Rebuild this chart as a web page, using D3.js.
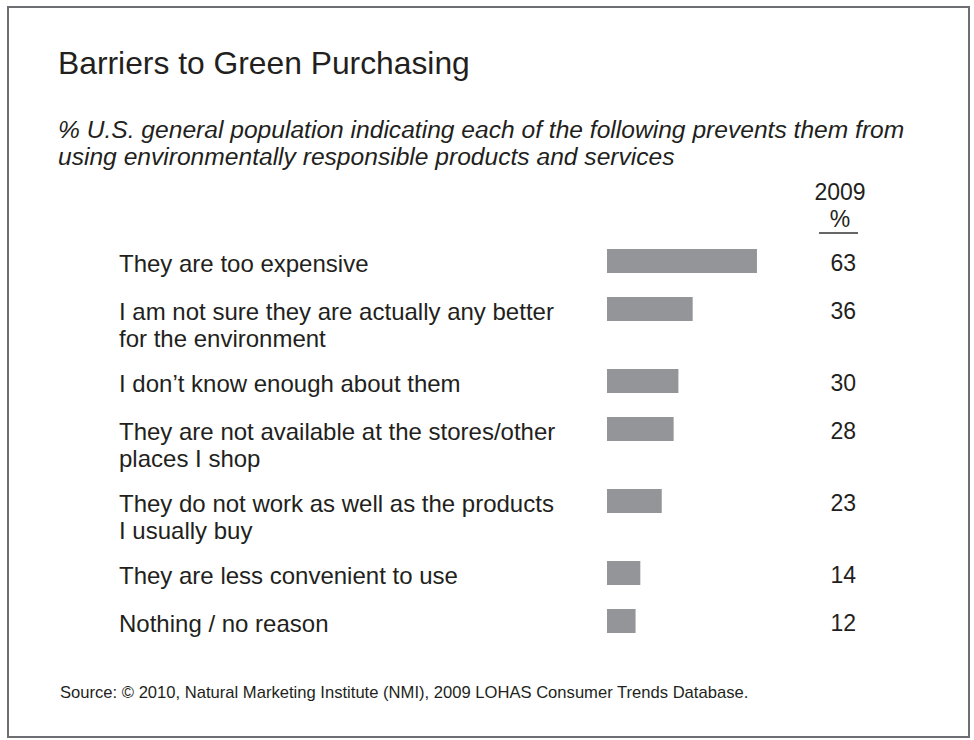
<!DOCTYPE html>
<html>
<head>
<meta charset="utf-8">
<script src="https://cdn.jsdelivr.net/npm/d3@7"></script>
<style>
  html, body { margin: 0; padding: 0; background: #fff; }
  svg { display: block; font-family: "Liberation Sans", Arial, sans-serif; }
</style>
</head>
<body>
<script>
// ---- data ----
const title = "Barriers to Green Purchasing";
const subtitleLines = [
  "% U.S. general population indicating each of the following prevents them from",
  "using environmentally responsible products and services"
];
const categories = [
  ["They are too expensive"],
  ["I am not sure they are actually any better", "for the environment"],
  ["I don\u2019t know enough about them"],
  ["They are not available at the stores/other", "places I shop"],
  ["They do not work as well as the products", "I usually buy"],
  ["They are less convenient to use"],
  ["Nothing / no reason"]
];
const values2009 = [63, 36, 30, 28, 23, 14, 12];
const columnHeader = ["2009", "%"];
const sourceText = "Source: \u00a9 2010, Natural Marketing Institute (NMI), 2009 LOHAS Consumer Trends Database.";

// ---- layout ----
const W = 974, H = 740;
const textColor = "#231f20";
const barColor = "#939598";
const frameColor = "#6d6e71";

const svg = d3.select("body").append("svg").attr("width", W).attr("height", H);

svg.append("rect")
  .attr("x", 8).attr("y", 7).attr("width", 961).attr("height", 730)
  .attr("fill", "#fff").attr("stroke", frameColor).attr("stroke-width", 2);

svg.append("text")
  .attr("x", 58).attr("y", 74)
  .attr("font-size", 31.8).attr("fill", textColor)
  .text(title);

svg.append("text")
  .attr("font-size", 24.6).attr("font-style", "italic").attr("fill", textColor)
  .selectAll("tspan").data(subtitleLines).join("tspan")
  .attr("x", 58).attr("y", (d, i) => 138 + i * 27)
  .text(d => d);

// row positions from label line counts (each row: lines + 1 units)
const rows = categories.map((lines, i) => ({ lines, value: values2009[i] }));
let acc = 0;
rows.forEach(r => { r.unit = acc; acc += r.lines.length + 1; });
const unitPx = 24;
const y = d3.scaleLinear().domain([0, acc]).range([249, 249 + unitPx * acc]);
const x = d3.scaleLinear().domain([0, 100]).range([607, 607 + 238]);
const barH = 24;

const g = svg.append("g");

g.selectAll("rect.bar").data(rows).join("rect")
  .attr("class", "bar")
  .attr("x", x(0))
  .attr("y", d => y(d.unit))
  .attr("width", d => x(d.value) - x(0))
  .attr("height", barH)
  .attr("fill", barColor);

g.selectAll("text.label").data(rows).join("text")
  .attr("class", "label")
  .attr("font-size", 24).attr("fill", textColor)
  .each(function(d) {
    d3.select(this).selectAll("tspan").data(d.lines).join("tspan")
      .attr("x", 119)
      .attr("y", (l, j) => y(d.unit) + barH / 2 + 10.5 + j * 27)
      .text(l => l);
  });

g.selectAll("text.val").data(rows).join("text")
  .attr("class", "val")
  .attr("x", 856)
  .attr("y", d => y(d.unit) + barH / 2 + 10)
  .attr("text-anchor", "end")
  .attr("font-size", 23).attr("fill", textColor)
  .text(d => d.value);

// column header
svg.append("text")
  .attr("x", 840).attr("y", 200).attr("text-anchor", "middle")
  .attr("font-size", 23).attr("fill", textColor).text(columnHeader[0]);
svg.append("text")
  .attr("x", 840).attr("y", 227).attr("text-anchor", "middle")
  .attr("font-size", 23).attr("fill", textColor).text(columnHeader[1]);
svg.append("line")
  .attr("x1", 819).attr("x2", 858).attr("y1", 233).attr("y2", 233)
  .attr("stroke", "#666").attr("stroke-width", 2);

svg.append("text")
  .attr("x", 60).attr("y", 698)
  .attr("font-size", 16.6).attr("fill", textColor)
  .text(sourceText);
</script>
</body>
</html>
